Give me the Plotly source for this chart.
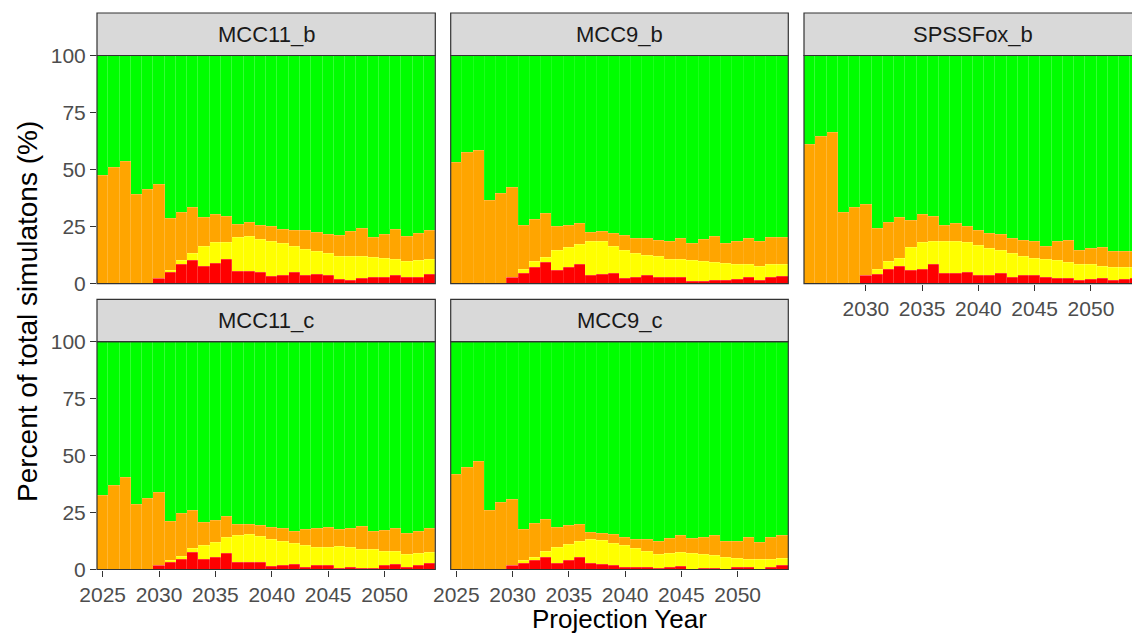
import plotly.graph_objects as go

W, H = 1132, 633

years = list(range(2025, 2055))
panels = ["MCC11_b", "MCC9_b", "SPSSFox_b", "MCC11_c", "MCC9_c"]

# cumulative levels (top of red, top of yellow, top of orange), %
mcc11_b_red = [0,0,0,0,0,2.3,4.8,8.2,10.1,7.7,8.9,10.8,5.3,5.3,5.0,3.1,3.8,5.0,3.8,4.1,3.5,1.9,1.6,2.3,2.8,2.8,3.7,2.8,2.8,3.9]
mcc11_b_yellow = [0,0,0,0,0,2.3,6.0,10.1,13.1,16.2,18.0,18.0,20.2,20.6,19.4,18.4,17.4,16.2,15.2,14.3,13.3,12.1,11.8,12.1,11.5,11.1,10.7,9.9,10.1,10.7]
mcc11_b_orange = [47.6,51.0,53.6,39.2,41.1,43.4,28.5,31.1,33.6,29.2,30.4,29.5,26.0,26.9,25.7,25.0,23.8,23.5,23.2,22.4,21.6,21.0,22.8,24.0,20.3,21.5,23.8,20.9,22.2,23.2]

mcc9_b_red = [0,0,0,0,0,2.8,4.5,7.0,9.1,6.0,7.2,8.5,3.7,4.1,4.5,2.2,2.6,3.5,2.5,2.5,2.5,0.9,1.0,1.3,1.6,1.9,2.5,1.6,2.6,3.2]
mcc9_b_yellow = [0,0,0,0,0,2.8,6.3,9.8,11.5,14.5,15.9,17.1,18.4,18.7,16.3,14.6,13.3,12.4,11.8,10.8,10.4,10.1,9.8,9.2,8.9,8.5,8.6,7.7,8.5,8.3]
mcc9_b_orange = [53.2,57.4,58.4,36.4,39.6,42.1,25.7,28.3,30.8,25.0,25.7,26.4,22.5,22.8,22.1,21.0,19.9,19.7,19.1,18.4,19.6,17.4,19.4,20.6,17.4,18.3,19.6,18.4,20.2,20.2]

spssfox_b_red = [0,0,0,0,0,3.5,4.2,6.3,7.5,5.7,6.3,8.6,4.5,4.5,5.0,3.7,3.5,4.5,2.8,3.4,3.7,2.8,2.3,2.3,1.6,2.0,2.2,1.6,1.9,2.2]
spssfox_b_yellow = [0,0,0,0,0,3.5,6.3,9.6,11.1,15.9,18.0,18.4,18.7,18.7,18.1,16.7,15.5,14.5,13.3,12.1,11.0,10.4,10.1,9.3,8.5,8.2,7.5,6.9,6.9,6.9]
spssfox_b_orange = [61.1,64.4,66.2,31.1,33.3,34.8,24.0,27.0,29.1,27.8,30.2,29.4,25.7,26.4,25.0,23.2,22.2,21.5,20.0,19.1,18.3,16.5,18.6,18.8,14.5,15.5,15.8,14.0,14.0,14.0]

mcc11_c_red = [0,0,0,0,0,1.5,2.8,4.4,7.5,4.4,5.0,7.0,2.9,3.2,3.1,1.2,1.5,1.9,0.9,1.5,1.8,0.3,0.6,0.4,0.3,1.6,2.2,0.9,1.8,2.6]
mcc11_c_yellow = [0,0,0,0,0,1.5,3.9,5.7,9.2,10.5,11.7,13.9,14.8,15.1,14.3,13.3,12.3,11.4,10.4,9.7,9.5,9.8,9.5,8.9,8.5,7.9,7.6,6.6,6.9,7.5]
mcc11_c_orange = [32.4,36.9,40.4,28.4,31.0,33.8,20.8,24.6,25.9,20.6,21.5,23.1,19.8,19.8,19.3,18.4,17.9,16.8,17.3,18.0,18.4,17.3,17.9,19.0,16.8,17.0,17.9,15.5,16.7,17.9]

mcc9_c_red = [0,0,0,0,0,1.5,2.6,3.8,5.4,2.6,3.7,5.1,2.6,2.0,1.6,0.7,0.9,0.9,0.3,0.7,1.2,0.0,0.3,0.3,0.0,0.6,0.6,0.0,0.9,1.6]
mcc9_c_yellow = [0,0,0,0,0,1.5,3.8,5.4,7.9,9.7,10.7,12.0,12.9,12.6,11.4,10.3,9.1,7.6,6.7,7.0,7.3,7.0,6.6,6.0,5.0,4.7,4.4,4.4,4.4,4.7]
mcc9_c_orange = [41.7,44.9,47.4,26.0,29.2,30.7,17.3,20.0,21.7,18.2,19.2,19.8,16.3,15.9,15.4,14.1,13.2,12.9,12.0,13.6,14.8,13.6,13.8,14.7,12.3,12.0,13.8,11.7,13.8,14.7]

levels = {
    "MCC11_b": (mcc11_b_red, mcc11_b_yellow, mcc11_b_orange),
    "MCC9_b": (mcc9_b_red, mcc9_b_yellow, mcc9_b_orange),
    "SPSSFox_b": (spssfox_b_red, spssfox_b_yellow, spssfox_b_orange),
    "MCC11_c": (mcc11_c_red, mcc11_c_yellow, mcc11_c_orange),
    "MCC9_c": (mcc9_c_red, mcc9_c_yellow, mcc9_c_orange),
}

y_ticks = [0, 25, 50, 75, 100]
x_ticks = [2025, 2030, 2035, 2040, 2045, 2050]
x_ticks_spss = [2030, 2035, 2040, 2045, 2050]

colors = {"red": "#FF0000", "yellow": "#FFFF00", "orange": "#FFA500", "green": "#00FF00"}

# pixel geometry of panels
px_x = [(97, 435.3), (450.7, 788.3), (804, 1141.6), (97, 435.3), (450.7, 788.3)]
px_y = [(55.5, 283.7), (55.5, 283.7), (55.5, 283.7), (341.7, 569.5), (341.7, 569.5)]
strip_y = [(13, 55.5), (299.3, 341.7)]

FONT = "Liberation Sans, Arial, sans-serif"
fig = go.Figure()
layout = {}
shapes = []
annotations = []

for i, name in enumerate(panels):
    red, yel, ora = levels[name]
    n = "" if i == 0 else str(i + 1)
    xa, ya = "x" + n, "y" + n
    comp = {
        "red": red,
        "yellow": [b - a for a, b in zip(red, yel)],
        "orange": [b - a for a, b in zip(yel, ora)],
        "green": [100 - v for v in ora],
    }
    for key in ["red", "yellow", "orange", "green"]:
        fig.add_trace(go.Bar(
            x=years, y=comp[key], xaxis=xa, yaxis=ya, width=1,
            marker=dict(color=colors[key], line=dict(width=0.6, color="rgba(255,255,255,0.18)")),
            showlegend=False, name=key,
        ))
    x0, x1 = px_x[i]
    y0, y1 = px_y[i]
    bar_px = (x1 - x0) / 30.0
    right_px = min(x1, W)
    xmax = 2024.5 + (right_px - x0) / bar_px
    dom_x = [x0 / W, right_px / W]
    dom_y = [1 - y1 / H, 1 - y0 / H]
    show_xt = i >= 2
    layout["xaxis" + n] = dict(
        domain=dom_x, anchor=ya, range=[2024.5, xmax], showgrid=False, zeroline=False,
        tickvals=(x_ticks_spss if name == "SPSSFox_b" else x_ticks) if show_xt else [],
        ticks="outside" if show_xt else "", ticklen=6, tickcolor="#333333", tickwidth=1.2,
        showticklabels=show_xt, tickfont=dict(family=FONT, size=21, color="#4D4D4D"),
        showline=False, fixedrange=True, automargin=False,
    )
    show_yt = i in (0, 3)
    layout["yaxis" + n] = dict(
        domain=dom_y, anchor=xa, range=[0, 100], showgrid=False, zeroline=False,
        tickvals=y_ticks if show_yt else [], ticks="outside" if show_yt else "",
        ticklen=6, tickcolor="#333333", tickwidth=1.2,
        showticklabels=show_yt, tickfont=dict(family=FONT, size=21, color="#4D4D4D"),
        showline=False, fixedrange=True, automargin=False,
    )
    # panel border
    shapes.append(dict(type="rect", xref="paper", yref="paper",
                       x0=x0 / W, x1=x1 / W, y0=1 - y1 / H, y1=1 - y0 / H,
                       line=dict(color="#333333", width=1.2), fillcolor="rgba(0,0,0,0)", layer="above"))
    sy0, sy1 = strip_y[0] if i < 3 else strip_y[1]
    shapes.append(dict(type="rect", xref="paper", yref="paper",
                       x0=x0 / W, x1=x1 / W, y0=1 - sy1 / H, y1=1 - sy0 / H,
                       line=dict(color="#333333", width=1.2), fillcolor="#D9D9D9", layer="above"))
    annotations.append(dict(text=name, xref="paper", yref="paper",
                            x=(x0 + x1) / 2 / W, y=1 - (sy0 + sy1) / 2 / H,
                            xanchor="center", yanchor="middle", showarrow=False,
                            font=dict(family=FONT, size=22, color="#1A1A1A")))

annotations.append(dict(text="Projection Year", xref="paper", yref="paper",
                        x=619.5 / W, y=1 - 618.5 / H, xanchor="center", yanchor="middle",
                        showarrow=False, font=dict(family=FONT, size=26, color="#000000")))
annotations.append(dict(text="Percent of total simulatons (%)", xref="paper", yref="paper",
                        x=27 / W, y=1 - 312 / H, xanchor="center", yanchor="middle", textangle=-90,
                        showarrow=False, font=dict(family=FONT, size=28, color="#000000")))

fig.update_layout(
    width=W, height=H, margin=dict(l=0, r=0, t=0, b=0, autoexpand=False),
    paper_bgcolor="white", plot_bgcolor="white",
    barmode="stack", bargap=0, showlegend=False,
    shapes=shapes, annotations=annotations, **layout,
)

fig.write_html("out.html")
